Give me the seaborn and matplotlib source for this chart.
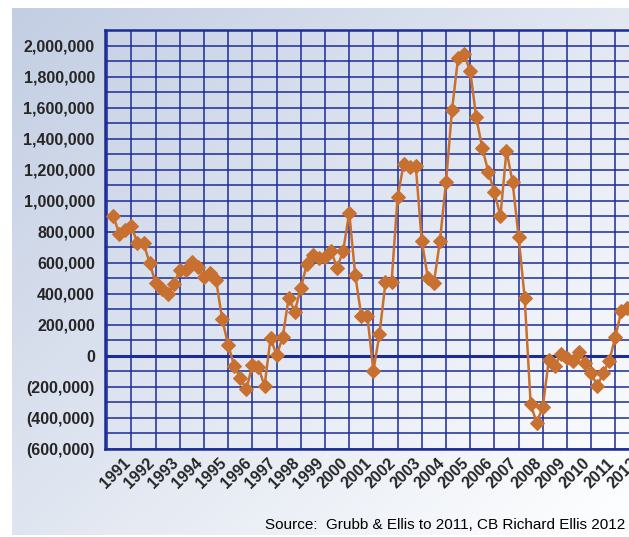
import matplotlib
matplotlib.use('Agg')
import matplotlib.pyplot as plt
import matplotlib.transforms as mtransforms
from matplotlib import font_manager
from matplotlib.ticker import FuncFormatter, MultipleLocator
import numpy as np
import pandas as pd
import seaborn as sns

# net absorption by quarter, first point at index 0
absorption = [900, 784, 810, 835, 724, 724, 599, 468, 429, 395, 459, 552,
              552, 605, 573, 505, 534, 487, 234, 68, -68, -147, -218, -61,
              -76, -197, 111, 3, 117, 373, 283, 434, 590, 650, 632, 637,
              674, 566, 674, 921, 519, 255, 255, -98, 137, 472, 472, 1021,
              1235, 1218, 1225, 739, 502, 470, 739, 1119, 1586, 1921, 1943, 1835,
              1537, 1337, 1186, 1053, 900, 1321, 1121, 767, 373, -315, -434, -330,
              -29, -66, 8, -14, -34, 21, -50, -111, -197, -111, -34, 121,
              289, 305]
years = list(range(1991, 2013))
source = 'Source:  Grubb & Ellis to 2011, CB Richard Ellis 2012'

df = pd.DataFrame({'q': np.arange(len(absorption)),
                   'value': np.array(absorption) * 1000})

NAVY = '#1c2c96'
ORANGE = '#c8702f'

sns.set_style('white')
names = {f.name for f in font_manager.fontManager.ttflist}
if 'Liberation Sans Narrow' in names:
    FAM, TSIZE, SSIZE = 'Liberation Sans Narrow', 13, 12.5
else:
    FAM, TSIZE, SSIZE = 'Liberation Sans', 11.5, 11
plt.rcParams['font.family'] = [FAM, 'DejaVu Sans']

fig = plt.figure(figsize=(6.29, 5.37), dpi=100)

# gradient backdrop
bg = fig.add_axes([12 / 629, 2 / 537, 1 - 12 / 629, 527 / 537])
gx, gy = np.meshgrid(np.linspace(0, 1, 200), np.linspace(0, 1, 200))
t = np.clip(0.55 * gx + 0.5 * gy, 0, 1)[..., None]
c0 = np.array([0xc3, 0xce, 0xe3]) / 255
c1 = np.array([0xfc, 0xfd, 0xfe]) / 255
bg.imshow(c0 + (c1 - c0) * t, aspect='auto', extent=[0, 1, 1, 0])
bg.set_axis_off()

ax = fig.add_axes([104.5 / 629, 0.1648, 538.1 / 629, 0.7793])
ax.set_facecolor('none')

ax.set_xlim(-1.45, 87.5)
ax.set_ylim(-600000, 2100000)
ax.yaxis.set_major_locator(MultipleLocator(200000))
ax.yaxis.set_minor_locator(MultipleLocator(100000))
ax.yaxis.set_major_formatter(FuncFormatter(
    lambda v, p: f'({abs(v):,.0f})' if v < 0 else f'{v:,.0f}'))
ax.tick_params(axis='y', labelsize=TSIZE, length=0, pad=7)
ax.tick_params(axis='x', length=0, pad=5)
ax.tick_params(which='minor', length=0)

ax.grid(True, which='both', color=NAVY, lw=1.1)
ax.grid(False, which='minor', axis='x')
ax.axvline(-1, color=NAVY, lw=1.1)
ax.axhline(0, color=NAVY, lw=2.2, zorder=2)
for s in ax.spines.values():
    s.set_color(NAVY)
    s.set_linewidth(1.8)

sns.lineplot(data=df, x='q', y='value', ax=ax, color=ORANGE, lw=1.8,
             marker='D', markersize=7, markeredgecolor=ORANGE, zorder=3)
ax.set_xlabel('')
ax.set_ylabel('')

# year labels sit on the gridlines between years
ax.set_xticks([3 + 4 * k for k in range(len(years))])
ax.set_xticklabels([str(y) for y in years], rotation=45, ha='right', va='top',
                   rotation_mode='anchor', fontsize=TSIZE, fontweight='bold')
shift = mtransforms.ScaledTranslation(-6.5 / 72, 0, fig.dpi_scale_trans)
for lab in ax.get_xticklabels():
    lab.set_transform(lab.get_transform() + shift)
for lab in ax.get_yticklabels():
    lab.set_fontweight('bold')

fig.text(265 / 629, 1 - 525 / 537, source, ha='left', va='center',
         fontsize=SSIZE, color='black')

fig.savefig('out.png', dpi=100)
